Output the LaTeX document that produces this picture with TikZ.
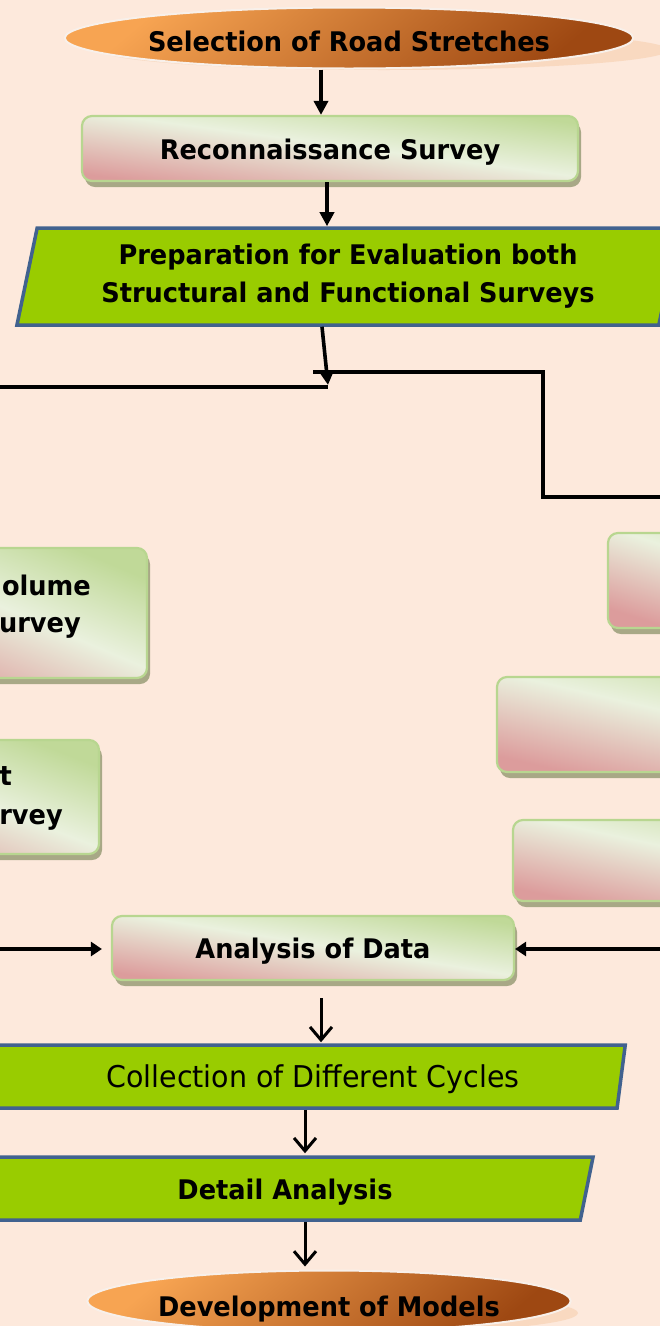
\documentclass[tikz,border=0pt]{standalone}
\usepackage{fontspec}
\setmainfont{DejaVu Sans}[FakeStretch=0.95]
\usetikzlibrary{shapes.geometric,arrows.meta,calc,shadows}
\definecolor{bg}{HTML}{FDE9DC}
\definecolor{paragreen}{HTML}{99CC00}
\definecolor{parablue}{HTML}{41628F}
\definecolor{boxpink}{HTML}{DC9C9C}
\definecolor{boxwhite}{HTML}{EAF1DE}
\definecolor{boxgreen}{HTML}{C0D998}
\definecolor{boxborder}{HTML}{B8D690}
\definecolor{boxshadow}{HTML}{A8A886}
\definecolor{orlight}{HTML}{F7A452}
\definecolor{ordark}{HTML}{9E4812}
\definecolor{orshadow}{HTML}{F9D9C0}
\definecolor{ellborder}{HTML}{F8F0EA}
\pgfdeclareverticalshading{cardshade}{100bp}{color(0bp)=(boxpink); color(25bp)=(boxpink); color(52bp)=(boxwhite); color(75bp)=(boxgreen); color(100bp)=(boxgreen)}
\pgfdeclareverticalshading{orshade}{100bp}{color(0bp)=(ordark); color(25bp)=(ordark); color(75bp)=(orlight); color(100bp)=(orlight)}
\tikzset{
  startstop/.style={ellipse, draw=ellborder, line width=2pt, shading=orshade, shading angle=40, inner sep=0pt,
    font=\bfseries\fontsize{27}{32}\selectfont, text height=27pt, text depth=0pt},
  card/.style={rectangle, rounded corners=10pt, draw=boxborder, line width=2.2pt, shading=cardshade, shading angle=-8,
    drop shadow={shadow xshift=3pt, shadow yshift=-6pt, fill=boxshadow, opacity=1},
    font=\bfseries\fontsize{27}{38}\selectfont, text height=21pt, text depth=0pt, inner sep=0pt},
  para/.style={trapezium, trapezium left angle=76, trapezium right angle=104, trapezium stretches=true,
    fill=paragreen, draw=parablue, line width=3.5pt, inner sep=0pt, align=center,
    font=\bfseries\fontsize{27}{38}\selectfont},
  lbl/.style={font=\bfseries\fontsize{27}{38}\selectfont, inner sep=0pt},
  arrF/.style={line width=3.6pt, -{Triangle[length=14pt,width=14pt]}},
  arrS/.style={line width=4pt, -{Triangle[length=11pt,width=14pt]}},
  arrV/.style={line width=3pt, -{Straight Barb[length=13pt,width=22pt]}},
  conn/.style={line width=4pt},
}
\begin{document}
\begin{tikzpicture}[x=1pt,y=-1pt]
\useasboundingbox (0,0) rectangle (660,1326);
\clip (0,0) rectangle (660,1326);
\fill[bg] (0,0) rectangle (660,1326);
% helper coordinates
\coordinate (selc) at (349,38);
\coordinate (devc) at (329,1301);
\coordinate (a1) at (321,0);
\coordinate (a2) at (327,0);
\coordinate (a3) at (322,0);
\coordinate (a4) at (321,0);
\coordinate (a5) at (305,0);
% ellipse shadows
\fill[orshadow] ($(selc)+(35,12)$) ellipse [x radius=284, y radius=20];
\fill[orshadow] ($(devc)+(35,12)$) ellipse [x radius=214, y radius=20];
% nodes
\node[startstop, minimum width=568, minimum height=61] (sel) at (selc) {Selection of Road Stretches};
\node[card, shading angle=-7.5, minimum width=496, minimum height=65] (recon) at (330,148.5) {Reconnaissance Survey};
\node[para, minimum width=666, minimum height=97] (prep) at (348,276.5) {Preparation for Evaluation both\\Structural and Functional Surveys};

\node[card, shading angle=-23, minimum width=297, minimum height=130] (volbox) at (-1.5,613) {};
\node[lbl, anchor=base east] (volA) at (91,595) {olume};
\node[lbl, anchor=base east] (volB) at (81,632) {urvey};
\node[card, shading angle=-21, minimum width=299, minimum height=114] (pavbox) at (-50.5,797) {};
\node[lbl, anchor=base east] (pavA) at (12,785) {t};
\node[lbl, anchor=base east] (pavB) at (63,824) {rvey};

\node[card, shading angle=-18, minimum width=292, minimum height=95] (r1) at (754,580.5) {};
\node[card, shading angle=-13, minimum width=403, minimum height=95] (r2) at (698.5,724.5) {};
\node[card, shading angle=-12, minimum width=387, minimum height=81] (r3) at (706.5,860.5) {};

\node[card, shading angle=-9, minimum width=402, minimum height=64] (anal) at (313,948) {Analysis of Data};
\node[para, trapezium left angle=75, trapezium right angle=105, minimum width=720, minimum height=63,
  font=\fontsize{30}{36}\selectfont, text height=22pt, text depth=0pt] (coll) at (266,1076.5)
  {\hspace*{94pt}Collection of Different Cycles};
\node[para, trapezium left angle=75, trapezium right angle=105, minimum width=700, minimum height=63,
  text height=21pt, text depth=0pt] (det) at (244,1188.5) {\hspace*{82pt}Detail Analysis};
\node[startstop, minimum width=428, minimum height=61, text height=30pt] (dev) at (devc) {Development of Models};

% connectors
\draw[arrF] (sel.south -| a1) -- (recon.north -| a1);
\draw[arrF] (recon.south -| a2) -- (prep.north -| a2);
\coordinate (j1) at (328,385);
\draw[arrF] (prep.south -| a3) -- (j1);
\coordinate (lfar) at (-5,387);
\coordinate (j2) at (328,387);
\draw[conn] (lfar) -- (j2);
\coordinate (rs) at (313,372);
\coordinate (rc1) at (543,372);
\coordinate (rc2) at (543,497);
\coordinate (rfar) at (665,497);
\draw[conn] (rs) -- (rc1) -- (rc2) -- (rfar);
\coordinate (inL) at (-5,949);
\coordinate (inR) at (665,949);
\draw[arrS, shorten >=9pt] (inL) -- (anal.west |- inL);
\draw[arrS] (inR) -- (anal.east |- inR);
\draw[arrV, shorten <=17pt, shorten >=1pt] (anal.south -| a4) -- (coll.north -| a4);
\draw[arrV, shorten >=2pt] (coll.south -| a5) -- (det.north -| a5);
\draw[arrV, shorten >=3pt] (det.south -| a5) -- (dev.north -| a5);
\end{tikzpicture}
\end{document}
